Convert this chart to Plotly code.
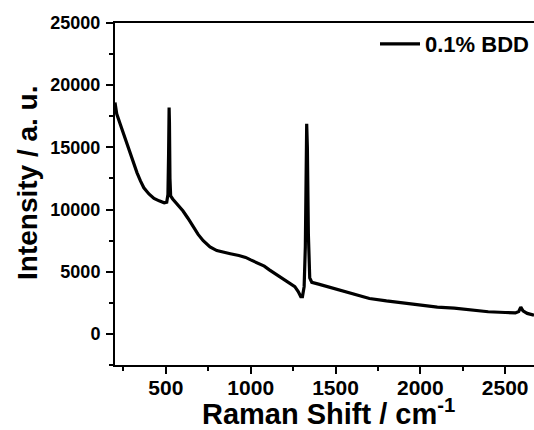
import plotly.graph_objects as go

raman_shift = [200, 210, 230, 250, 270, 290, 310, 330, 350, 370, 400, 430, 460, 490,
               505, 512, 516, 519, 521, 524, 528, 540, 570, 600, 630, 660, 690, 720,
               760, 800, 840, 880, 930, 970, 1000, 1040, 1080, 1110, 1150, 1190, 1230,
               1260, 1280, 1295, 1305, 1315, 1322, 1327, 1330, 1334, 1340, 1348, 1360,
               1400, 1450, 1500, 1550, 1600, 1650, 1700, 1800, 1900, 2000, 2100, 2200,
               2300, 2400, 2500, 2560, 2580, 2592, 2605, 2630, 2670]
intensity = [18600, 17700, 16900, 16100, 15300, 14500, 13700, 12950, 12300, 11750, 11250,
             10900, 10700, 10550, 10600, 11200, 14500, 18200, 17000, 12500, 11100, 10850,
             10400, 9900, 9300, 8600, 8000, 7500, 7000, 6700, 6550, 6450, 6300, 6150,
             5950, 5700, 5450, 5150, 4800, 4430, 4100, 3800, 3400, 3000, 3000, 3800,
             7000, 13000, 16900, 15000, 8000, 4500, 4150, 4000, 3800, 3650, 3450, 3250,
             3000, 2850, 2650, 2500, 2330, 2150, 2080, 1950, 1780, 1720, 1690, 1800,
             2150, 1850, 1650, 1500]
series_name = "0.1% BDD"
x_title = "Raman Shift / cm<sup>-1</sup>"
y_title = "Intensity / a. u."

FONT = "Liberation Sans, Arial, sans-serif"

W, H = 534, 430
ML, MR, MT, MB = 115, 0, 23, 65
PW, PH = W - ML - MR, H - MT - MB


def px_x(p):
    return (p - ML) / PW


def px_y(p):
    return (H - MB - p) / PH


fig = go.Figure()
fig.add_trace(go.Scatter(x=raman_shift, y=intensity, mode="lines", name=series_name,
                         line=dict(color="black", width=3.2)))

fig.update_layout(
    width=W, height=H,
    margin=dict(l=ML, r=MR, t=MT, b=MB, autoexpand=False),
    paper_bgcolor="white", plot_bgcolor="white",
    showlegend=True,
    legend=dict(x=1.0, xanchor="right", y=1.0, yanchor="top",
                font=dict(family=FONT, size=22, color="black", weight="bold"),
                bgcolor="rgba(0,0,0,0)", itemwidth=40, tracegroupgap=0),
    annotations=[
        dict(text=x_title, xref="paper", yref="paper", x=px_x(328), y=px_y(432),
             xanchor="center", yanchor="bottom", showarrow=False,
             font=dict(family=FONT, size=29, color="black", weight="bold")),
        dict(text=y_title, xref="paper", yref="paper", x=px_x(27), y=px_y(183),
             xanchor="center", yanchor="middle", textangle=-90, showarrow=False,
             font=dict(family=FONT, size=28, color="black", weight="bold")),
    ],
)
fig.update_xaxes(
    range=[200, 2670], showgrid=False, zeroline=False,
    showline=True, linecolor="black", linewidth=2, mirror=True,
    ticks="outside", ticklen=7, tickwidth=2, tickcolor="black",
    tick0=0, dtick=500, tickformat="d", ticklabelstandoff=-4,
    minor=dict(ticks="outside", ticklen=4, tickwidth=2, tickcolor="black", dtick=250, tick0=0),
    tickfont=dict(family=FONT, size=21, color="black", weight="bold"),
)
fig.update_yaxes(
    range=[-2500, 25000], showgrid=False, zeroline=False,
    showline=True, linecolor="black", linewidth=2, mirror=False,
    ticks="outside", ticklen=7, tickwidth=2, tickcolor="black",
    tick0=0, dtick=5000, tickformat="d", ticklabelstandoff=2,
    minor=dict(ticks="outside", ticklen=4, tickwidth=2, tickcolor="black", dtick=2500, tick0=0),
    tickfont=dict(family=FONT, size=18, color="black", weight="bold"),
)

fig.write_html("out.html")
